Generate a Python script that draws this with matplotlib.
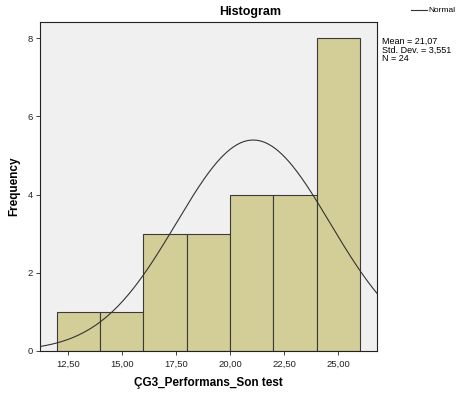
import numpy as np
import matplotlib
matplotlib.use("Agg")
import matplotlib.pyplot as plt

plt.rcParams['font.family'] = ['Liberation Sans', 'DejaVu Sans']

# Histogram bins and frequencies
bin_edges = [12, 14, 16, 18, 20, 22, 24, 26]
counts = [1, 1, 3, 3, 4, 4, 8]
mean = 21.07
std_dev = 3.551
n = 24

x_ticks = [12.5, 15.0, 17.5, 20.0, 22.5, 25.0]
y_ticks = [0, 2, 4, 6, 8]


def comma(v, digits):
    return f"{v:.{digits}f}".replace('.', ',')


fig = plt.figure(figsize=(4.57, 3.94), dpi=100)
ax = fig.add_axes([40 / 457, 43 / 394, 337 / 457, 329 / 394])
ax.set_facecolor('#f0f0f0')

lefts = np.array(bin_edges[:-1])
widths = np.diff(bin_edges)
ax.bar(lefts, counts, width=widths, align='edge', color='#d3ce98',
       edgecolor='#3a3a3a', linewidth=0.8, zorder=2)

# normal curve scaled to counts
bw = widths[0]
xs = np.linspace(11.2, 26.8, 300)
pdf = np.exp(-0.5 * ((xs - mean) / std_dev) ** 2) / (std_dev * np.sqrt(2 * np.pi))
ax.plot(xs, n * bw * pdf, color='#333333', linewidth=0.8, zorder=3)

ax.set_xlim(11.22, 26.79)
ax.set_ylim(0, 8.41)
ax.set_xticks(x_ticks)
ax.set_xticklabels([comma(v, 2) for v in x_ticks])
ax.set_yticks(y_ticks)
ax.tick_params(labelsize=6.8, length=3, width=0.6, colors='#222222', pad=2)
ax.tick_params(axis='x', pad=3)
for s in ax.spines.values():
    s.set_linewidth(0.8)
    s.set_color('#222222')

ax.set_xlabel('ÇG3_Performans_Son test', fontsize=8.5, fontweight='bold', labelpad=6)
ax.set_ylabel('Frequency', fontsize=8.5, fontweight='bold', labelpad=5)

fig.text(250 / 457, 1 - 12 / 394, 'Histogram', fontsize=9, fontweight='bold',
         ha='center', va='center')

# legend and summary stats
fig.add_artist(plt.Line2D([411 / 457, 427 / 457], [1 - 10 / 394, 1 - 10 / 394],
                          color='#333333', linewidth=0.8))
fig.text(428 / 457, 1 - 10 / 394, 'Normal', fontsize=6, va='center', ha='left')
fig.text(382 / 457, 1 - 37 / 394,
         f"Mean = {comma(mean, 2)}\nStd. Dev. = {comma(std_dev, 3)}\nN = {n}",
         fontsize=6.5, va='top', ha='left', linespacing=0.95)

fig.savefig('out.png', dpi=100)
